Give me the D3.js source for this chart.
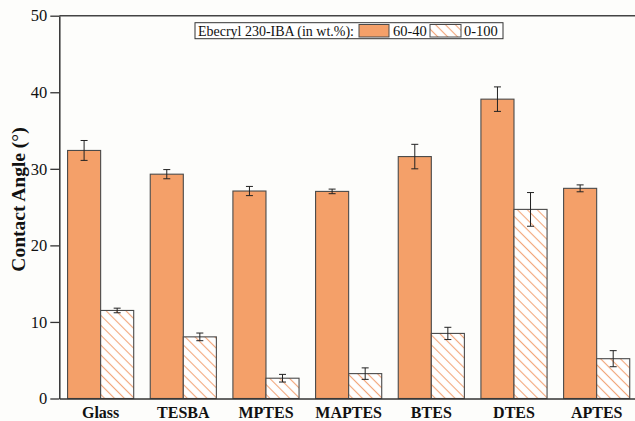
<!DOCTYPE html>
<html>
<head>
<meta charset="utf-8">
<script src="https://cdn.jsdelivr.net/npm/d3@7"></script>
<style>
  body { margin: 0; background: #fdfdfb; }
  svg { display: block; font-family: "Liberation Serif", "Times New Roman", serif; }
</style>
</head>
<body>
<svg id="chart"></svg>
<script>
// data
const categories = ["Glass", "TESBA", "MPTES", "MAPTES", "BTES", "DTES", "APTES"];
const series = ["60-40", "0-100"];
const values6040 = [32.4, 29.3, 27.1, 27.05, 31.6, 39.1, 27.45];
const errors6040 = [1.3, 0.6, 0.6, 0.3, 1.6, 1.6, 0.45];
const values0100 = [11.5, 8.05, 2.65, 3.25, 8.5, 24.7, 5.2];
const errors0100 = [0.3, 0.5, 0.5, 0.75, 0.8, 2.2, 1.05];
const yTicks = [0, 10, 20, 30, 40, 50];

const svgWidth = 635;
const svgHeight = 421;
const orange = "#f4a069";

const svg = d3.select("#chart")
  .attr("width", svgWidth)
  .attr("height", svgHeight);

// hatch for the 0-100 bars (lines running top-left to bottom-right)
const defs = svg.append("defs");
const pat = defs.append("pattern")
  .attr("id", "hatch")
  .attr("patternUnits", "userSpaceOnUse")
  .attr("width", 7).attr("height", 7)
  .attr("patternTransform", "rotate(-45)");
pat.append("rect").attr("width", 7).attr("height", 7).attr("fill", "#ffffff");
pat.append("line")
  .attr("x1", 3.5).attr("y1", 0).attr("x2", 3.5).attr("y2", 7)
  .attr("stroke", "#f2a67a").attr("stroke-width", 1.1);

// scales
const xScale = d3.scaleBand()
  .domain(categories)
  .range([59.3, 638])
  .paddingInner(0.2)
  .paddingOuter(0.1);

const xSub = d3.scaleBand()
  .domain(series)
  .range([0, xScale.bandwidth()]);

const yScale = d3.scaleLinear()
  .domain([0, 50])
  .range([398.5, 15.7]);

// top frame line
svg.append("line")
  .attr("x1", 59.3).attr("x2", svgWidth)
  .attr("y1", yScale(50)).attr("y2", yScale(50))
  .attr("stroke", "#444").attr("stroke-width", 1.5);

// bars
const rows = categories.map((c, i) => ({
  cat: c,
  bars: [
    { s: series[0], v: values6040[i], e: errors6040[i] },
    { s: series[1], v: values0100[i], e: errors0100[i] }
  ]
}));

const groups = svg.selectAll(".grp")
  .data(rows)
  .enter()
  .append("g")
  .attr("class", "grp")
  .attr("transform", d => `translate(${xScale(d.cat)},0)`);

groups.selectAll("rect")
  .data(d => d.bars)
  .enter()
  .append("rect")
  .attr("x", d => xSub(d.s))
  .attr("y", d => yScale(d.v))
  .attr("width", xSub.bandwidth())
  .attr("height", d => yScale(0) - yScale(d.v))
  .attr("fill", d => d.s === series[0] ? orange : "url(#hatch)")
  .attr("stroke", "#4a4a4a")
  .attr("stroke-width", 1.1);

// error bars
const capW = 3.5;
const err = groups.selectAll(".err")
  .data(d => d.bars)
  .enter()
  .append("g")
  .attr("class", "err")
  .attr("stroke", "#222")
  .attr("stroke-width", 1);
err.append("line")
  .attr("x1", d => xSub(d.s) + xSub.bandwidth() / 2)
  .attr("x2", d => xSub(d.s) + xSub.bandwidth() / 2)
  .attr("y1", d => yScale(d.v + d.e))
  .attr("y2", d => yScale(d.v - d.e));
err.append("line")
  .attr("x1", d => xSub(d.s) + xSub.bandwidth() / 2 - capW)
  .attr("x2", d => xSub(d.s) + xSub.bandwidth() / 2 + capW)
  .attr("y1", d => yScale(d.v + d.e))
  .attr("y2", d => yScale(d.v + d.e));
err.append("line")
  .attr("x1", d => xSub(d.s) + xSub.bandwidth() / 2 - capW)
  .attr("x2", d => xSub(d.s) + xSub.bandwidth() / 2 + capW)
  .attr("y1", d => yScale(d.v - d.e))
  .attr("y2", d => yScale(d.v - d.e));

// axes
const xAxis = d3.axisBottom(xScale).tickSize(0).tickPadding(8);
const gx = svg.append("g")
  .attr("transform", `translate(0,${yScale(0)})`)
  .call(xAxis);
gx.select(".domain").attr("stroke", "#333").attr("stroke-width", 1.5);
gx.selectAll("text")
  .attr("font-family", "Liberation Serif, serif")
  .attr("font-size", 16)
  .attr("font-weight", "bold")
  .attr("fill", "#111");

const yAxis = d3.axisLeft(yScale).tickValues(yTicks).tickSize(9).tickSizeOuter(0).tickPadding(3);
const gy = svg.append("g")
  .attr("transform", "translate(59.3,0)")
  .call(yAxis);
gy.select(".domain").attr("stroke", "#333").attr("stroke-width", 1.5);
gy.selectAll(".tick line").attr("stroke", "#333").attr("stroke-width", 1.3);
gy.selectAll("text")
  .attr("font-family", "Liberation Serif, serif")
  .attr("font-size", 16.5)
  .attr("fill", "#111");

// y label
svg.append("text")
  .attr("transform", "translate(25,199.5) rotate(-90)")
  .attr("text-anchor", "middle")
  .attr("font-size", 19.5)
  .attr("font-weight", "bold")
  .attr("fill", "#111")
  .text("Contact Angle (°)");

// legend
const lg = svg.append("g").attr("font-size", 14.5).attr("fill", "#111");
lg.append("rect")
  .attr("x", 195).attr("y", 22.7).attr("width", 308).attr("height", 16)
  .attr("fill", "#fff").attr("stroke", "#333").attr("stroke-width", 1);
lg.append("text").attr("x", 198).attr("y", 35.6)
  .attr("textLength", 156).attr("lengthAdjust", "spacingAndGlyphs")
  .text("Ebecryl 230-IBA (in wt.%):");
lg.append("rect")
  .attr("x", 359).attr("y", 24.5).attr("width", 30).attr("height", 12.5)
  .attr("fill", orange).attr("stroke", "#4a4a4a").attr("stroke-width", 1);
lg.append("text").attr("x", 393).attr("y", 35.6).text(series[0]);
lg.append("rect")
  .attr("x", 430).attr("y", 24.5).attr("width", 31).attr("height", 12.5)
  .attr("fill", "url(#hatch)").attr("stroke", "#4a4a4a").attr("stroke-width", 1);
lg.append("text").attr("x", 464).attr("y", 35.6).text(series[1]);
</script>
</body>
</html>
